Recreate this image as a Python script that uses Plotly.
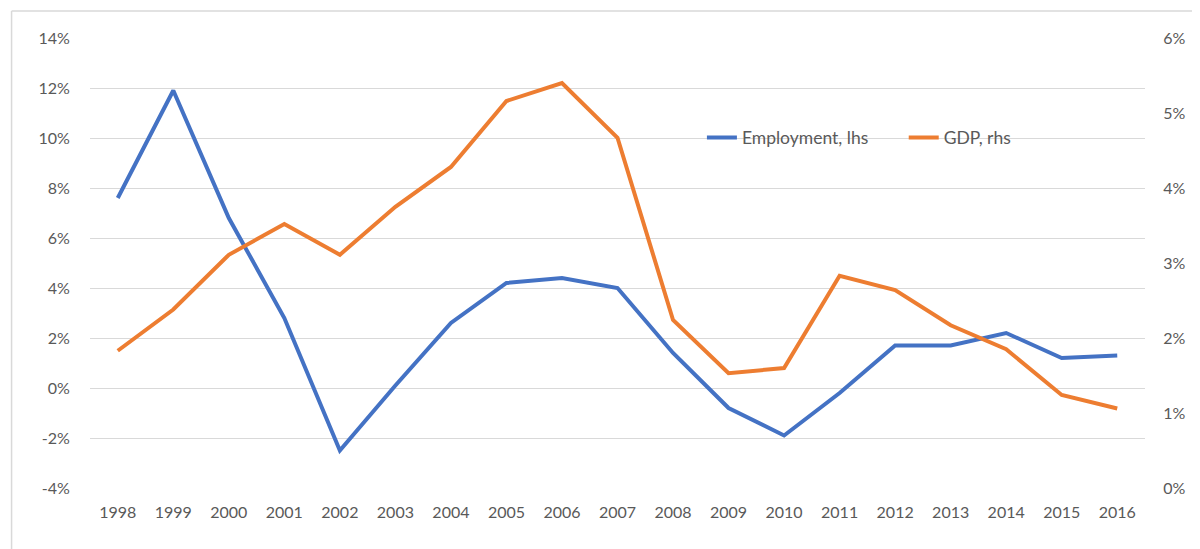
import plotly.graph_objects as go

years = [str(y) for y in range(1998, 2017)]
employment = [7.6, 11.9, 6.8, 2.8, -2.5, 0.1, 2.6, 4.2, 4.4, 4.0, 1.4, -0.8, -1.9, -0.2, 1.7, 1.7, 2.2, 1.2, 1.3]
gdp = [1.83, 2.38, 3.11, 3.52, 3.11, 3.75, 4.28, 5.16, 5.40, 4.67, 2.24, 1.53, 1.60, 2.83, 2.64, 2.17, 1.85, 1.24, 1.06]

left_ticks = [-4, -2, 0, 2, 4, 6, 8, 10, 12, 14]
left_labels = ["-4%", "-2%", "0%", "2%", "4%", "6%", "8%", "10%", "12%", "14%"]
right_ticks = [0, 1, 2, 3, 4, 5, 6]
right_labels = ["0%", "1%", "2%", "3%", "4%", "5%", "6%"]

# page body has an 8px margin; work in figure coordinates = screen - 8
OFF = 8
W, H = 1200 - OFF, 549 - OFF
L, R, T, B = 89.5 - OFF, 1145.5 - OFF, 38 - OFF, 488 - OFF


def px(x_screen):
    return (x_screen - OFF - L) / (R - L)


def py(y_screen):
    return (B - (y_screen - OFF)) / (B - T)


tick_font = dict(family="Lato, 'Open Sans', sans-serif", size=16, color="#595959")
legend_font = dict(family="Lato, 'Open Sans', sans-serif", size=17.5, color="#595959")

fig = go.Figure()
fig.add_trace(go.Scatter(x=years, y=employment, name="Employment, lhs", mode="lines",
                         line=dict(color="#4472C4", width=4), yaxis="y", legend="legend"))
fig.add_trace(go.Scatter(x=years, y=gdp, name="GDP, rhs", mode="lines",
                         line=dict(color="#ED7D31", width=4), yaxis="y2", legend="legend2"))

fig.update_layout(
    width=W, height=H,
    margin=dict(l=L, r=W - R, t=T, b=H - B, pad=0, autoexpand=False),
    paper_bgcolor="white", plot_bgcolor="white",
    font=tick_font,
    showlegend=True,
    legend=dict(orientation="h", x=px(702), y=py(137.7), xanchor="left", yanchor="middle",
                bgcolor="rgba(0,0,0,0)", font=legend_font),
    legend2=dict(orientation="h", x=px(904), y=py(137.7), xanchor="left", yanchor="middle",
                 bgcolor="rgba(0,0,0,0)", font=legend_font),
    xaxis=dict(type="category", range=[-0.5, len(years) - 0.5], showgrid=False, zeroline=False,
               showline=False, ticks="outside", ticklen=10, tickcolor="rgba(0,0,0,0)",
               tickfont=tick_font),
    yaxis=dict(range=[-4, 14], tickvals=left_ticks, ticktext=left_labels, showgrid=True,
               gridcolor="#D9D9D9", gridwidth=1, zeroline=False, showline=False,
               ticks="outside", ticklen=16, tickcolor="rgba(0,0,0,0)", tickfont=tick_font),
    yaxis2=dict(range=[0, 6], tickvals=right_ticks, ticktext=right_labels, overlaying="y",
                side="right", showgrid=False, zeroline=False, showline=False,
                ticks="outside", ticklen=14, tickcolor="rgba(0,0,0,0)", tickfont=tick_font),
    shapes=[
        dict(type="line", xref="paper", yref="paper", x0=px(11), x1=px(1215), y0=py(11), y1=py(11),
             line=dict(color="#D9D9D9", width=1.5)),
        dict(type="line", xref="paper", yref="paper", x0=px(11), x1=px(11), y0=py(11), y1=py(570),
             line=dict(color="#D9D9D9", width=1.5)),
    ],
)

fig.write_html("out.html")
